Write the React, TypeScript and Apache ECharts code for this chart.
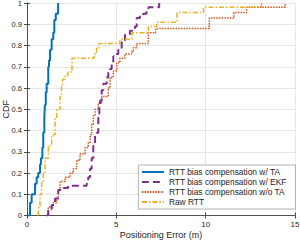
import React, { useEffect, useRef } from "react";
import * as echarts from "echarts";

const seriesNames = [
  "RTT bias compensation w/ TA",
  "RTT bias compensation w/ EKF",
  "RTT bias compensation w/o TA",
  "Raw RTT",
];

const withTA: [number, number][] = [
  [0.04, 0], [0.17, 0.06], [0.26, 0.1], [0.45, 0.15], [0.54, 0.18], [0.63, 0.2],
  [0.73, 0.24], [0.78, 0.27], [0.86, 0.32], [0.91, 0.39], [0.97, 0.46], [1.0, 0.52],
  [1.05, 0.58], [1.1, 0.62], [1.19, 0.7], [1.23, 0.73], [1.29, 0.78], [1.38, 0.83],
  [1.47, 0.86], [1.53, 0.92], [1.61, 0.95], [1.74, 1.0],
];

const withEKF: [number, number][] = [
  [1.1, 0], [1.19, 0.03], [1.38, 0.05], [1.57, 0.08], [1.75, 0.12], [2.03, 0.13],
  [2.3, 0.14], [3.34, 0.15], [3.43, 0.18], [3.53, 0.22], [3.62, 0.27], [3.71, 0.33],
  [3.81, 0.38], [3.9, 0.39], [3.99, 0.46], [4.05, 0.51], [4.09, 0.54], [4.18, 0.59],
  [4.27, 0.62], [4.46, 0.65], [4.55, 0.675], [4.65, 0.69], [4.74, 0.72], [4.83, 0.75],
  [4.92, 0.76], [5.11, 0.79], [5.3, 0.815], [5.48, 0.85], [5.76, 0.87], [6.04, 0.89],
  [6.14, 0.93], [6.32, 0.94], [6.5, 0.95], [6.69, 0.975], [6.8, 0.98], [7.4, 1.0],
];

const withoutTA: [number, number][] = [
  [1.1, 0], [1.19, 0.04], [1.47, 0.06], [1.66, 0.08], [1.75, 0.12], [1.85, 0.16],
  [2.13, 0.18], [2.41, 0.2], [2.59, 0.22], [2.78, 0.26], [2.97, 0.29], [3.25, 0.32],
  [3.43, 0.345], [3.53, 0.38], [3.62, 0.43], [3.71, 0.47], [3.81, 0.5], [3.99, 0.53],
  [4.18, 0.56], [4.55, 0.6], [4.65, 0.65], [4.83, 0.68], [5.02, 0.72], [5.2, 0.74],
  [5.48, 0.76], [5.85, 0.77], [5.95, 0.79], [6.14, 0.81], [6.79, 0.86], [7.2, 0.88],
  [10.2, 0.93], [11.58, 0.955], [12.29, 0.98], [14.45, 1.0],
];

const rawRTT: [number, number][] = [
  [0.63, 0], [0.66, 0.04], [0.73, 0.1], [0.82, 0.16], [0.91, 0.2], [1.01, 0.27],
  [1.19, 0.33], [1.38, 0.38], [1.57, 0.46], [1.66, 0.5], [1.85, 0.56], [1.93, 0.61],
  [1.99, 0.64], [2.13, 0.66], [2.29, 0.675], [2.52, 0.74], [3.75, 0.76], [3.89, 0.79],
  [4.03, 0.81], [5.2, 0.83], [5.88, 0.86], [6.79, 0.89], [7.26, 0.91], [8.4, 0.955],
  [9.88, 0.98], [13.13, 1.0],
];

const xTicks = { min: 0, max: 15, interval: 5 };
const yTicks = { min: 0, max: 1, interval: 0.1 };

export default function App() {
  const ref = useRef<HTMLDivElement>(null);
  useEffect(() => {
    if (!ref.current) return;
    const chart = echarts.init(ref.current, null, { renderer: "svg" });
    const font = "Liberation Sans, Arial, Helvetica, sans-serif";
    const axisColor = "#4a4a4a";
    const mkLine = (
      name: string,
      data: [number, number][],
      color: string,
      width: number,
      type: any,
      z: number
    ) => ({
      name,
      type: "line",
      data,
      step: "end",
      symbol: "none",
      showSymbol: false,
      z,
      lineStyle: { color, width, type },
      itemStyle: { color },
    });
    chart.setOption({
      animation: false,
      textStyle: { fontFamily: font },
      grid: {
        left: 27,
        right: 5,
        top: 3,
        bottom: 25.5,
        containLabel: false,
        outerBoundsMode: "none",
      },
      legend: {
        orient: "vertical",
        right: 4.5,
        top: 165,
        data: seriesNames,
        backgroundColor: "#ffffff",
        borderColor: "#a0a0a0",
        borderWidth: 0.8,
        borderRadius: 0,
        padding: [2, 9, 2, 2.5],
        itemWidth: 22,
        itemHeight: 10,
        itemGap: 0,
        itemStyle: { opacity: 0 },
        textStyle: { fontSize: 8.4, lineHeight: 10, color: "#262626", fontFamily: font },
      },
      xAxis: [
        {
          type: "value",
          min: xTicks.min,
          max: xTicks.max,
          interval: xTicks.interval,
          name: "Positioning Error (m)",
          nameLocation: "middle",
          nameGap: 15,
          nameMoveOverlap: false,
          nameTextStyle: { fontSize: 9, color: "#262626", fontFamily: font },
          axisLine: { show: true, lineStyle: { color: axisColor, width: 0.8 } },
          axisTick: { show: true, inside: true, length: 3, lineStyle: { color: axisColor } },
          axisLabel: { fontSize: 8, color: "#262626", margin: 5, fontFamily: font },
          splitLine: { show: true, lineStyle: { color: "#e6e6e6", width: 1 } },
        },
        {
          type: "value",
          position: "top",
          min: xTicks.min,
          max: xTicks.max,
          interval: xTicks.interval,
          axisLine: { show: true, lineStyle: { color: axisColor, width: 0.8 } },
          axisTick: { show: true, inside: true, length: 3, lineStyle: { color: axisColor } },
          axisLabel: { show: false },
          splitLine: { show: false },
        },
      ],
      yAxis: [
        {
          type: "value",
          min: yTicks.min,
          max: yTicks.max,
          interval: yTicks.interval,
          name: "CDF",
          nameLocation: "middle",
          nameGap: 17,
          nameMoveOverlap: false,
          nameRotate: 90,
          nameTextStyle: { fontSize: 9, color: "#262626", fontFamily: font },
          axisLine: { show: true, lineStyle: { color: axisColor, width: 0.8 } },
          axisTick: { show: true, inside: true, length: 3, lineStyle: { color: axisColor } },
          axisLabel: {
            show: true,
            fontSize: 7.6,
            color: "#262626",
            margin: 5,
            fontFamily: font,
            hideOverlap: false,
            formatter: (v: number) => String(Math.round(v * 10) / 10),
          },
          splitLine: { show: true, lineStyle: { color: "#e6e6e6", width: 1 } },
        },
        {
          type: "value",
          position: "right",
          min: yTicks.min,
          max: yTicks.max,
          interval: yTicks.interval,
          axisLine: { show: true, lineStyle: { color: axisColor, width: 0.8 } },
          axisTick: { show: true, inside: true, length: 3, lineStyle: { color: axisColor } },
          axisLabel: { show: false },
          splitLine: { show: false },
        },
      ],
      series: [
        mkLine(seriesNames[0], withTA, "#0072BD", 2, "solid", 5),
        mkLine(seriesNames[1], withEKF, "#7E2F8E", 2, [7, 4], 4),
        mkLine(seriesNames[2], withoutTA, "#D95319", 1.5, [1.5, 1.2], 3),
        mkLine(seriesNames[3], rawRTT, "#EDB120", 1.5, [5, 2, 1.5, 2], 6),
      ],
    });
    return () => chart.dispose();
  }, []);
  return (
    <div
      ref={ref}
      style={{ position: "fixed", left: 0, top: 0, width: 300, height: 241, background: "#fff" }}
    />
  );
}
